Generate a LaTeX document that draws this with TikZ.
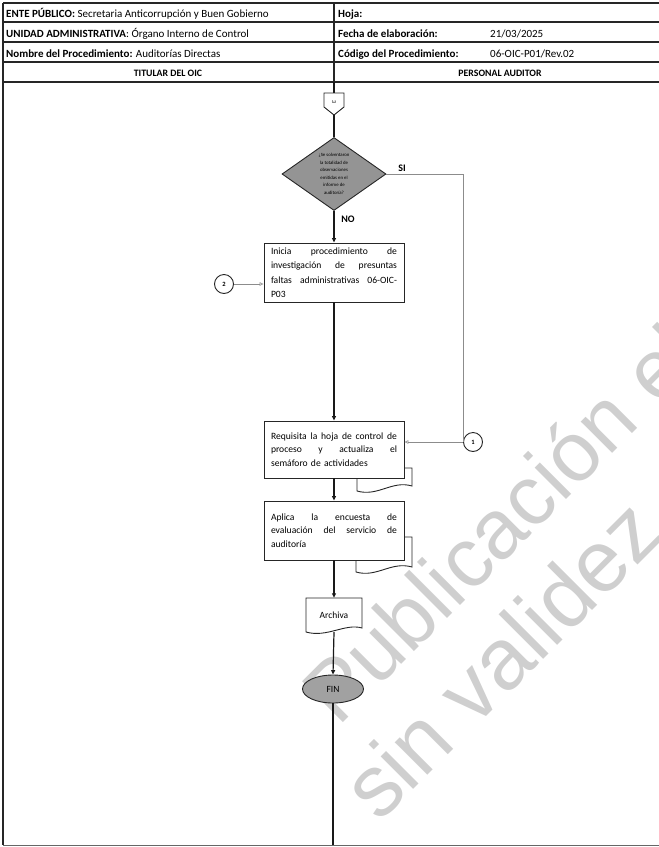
\documentclass[tikz,border=0pt]{standalone}
\usepackage{fontspec}
\setmainfont{Carlito}
\setsansfont{Liberation Sans}
\usetikzlibrary{arrows.meta,shapes.geometric}
\begin{document}
\begin{tikzpicture}[x=1pt,y=-1pt,
  hdr/.style={anchor=base west, inner sep=0pt, font=\fontsize{11}{12}\selectfont},
  hdrc/.style={anchor=base, inner sep=0pt, font=\bfseries\fontsize{9.8}{11}\selectfont},
  gridline/.style={line width=1.1pt, draw=black!85},
  procbox/.style={draw=black!85, line width=0.9pt, fill=white, minimum width=140pt, inner xsep=7pt, inner ysep=0pt, text width=126pt, align=left},
  flowline/.style={draw=black!90, line width=1.2pt},
  flowarrow/.style={flowline, -{Triangle[length=4.5pt,width=4pt]}},
  thinline/.style={draw=black!45, line width=0.6pt},
  thinarrow/.style={thinline, -{Triangle[open,length=4pt,width=3.5pt]}},
  conn/.style={circle, draw=black!85, line width=0.9pt, fill=white, minimum size=19pt, inner sep=0pt, font=\bfseries\fontsize{6.5}{7}\selectfont},
  docline/.style={draw=black!85, line width=0.9pt},
  lbl/.style={inner sep=0pt, font=\bfseries\fontsize{10}{11}\selectfont},
  wmark/.style={text=black!19, font=\sffamily\fontsize{88}{90}\selectfont, anchor=base west, rotate=45, inner sep=0pt},
]
\useasboundingbox (0,0) rectangle (659,847);
\begin{scope}
\clip (0,0) rectangle (659,847);
\node[wmark, font=\sffamily\fontsize{84}{90}\selectfont] (wm1) at (338,728) {Publicación el};
\node[wmark, font=\sffamily\fontsize{87}{90}\selectfont] (wm2) at (379,824) {sin validez};
\end{scope}

% header grid
\draw[gridline] (3,3) -- (659,3);
\draw[gridline] (3,22) -- (659,22);
\draw[gridline] (3,42) -- (659,42);
\draw[gridline] (3,62) -- (659,62);
\draw[gridline] (3,82) -- (659,82);
\draw[gridline] (3,3) -- (3,845);
\draw[gridline] (334,3) -- (334,82);
\draw[line width=1pt, draw=black!60] (3,845) -- (659,845);

% header texts
\node[hdr] (h1) at (6,17.5) {\textbf{ENTE PÚBLICO:} Secretaria Anticorrupción y Buen Gobierno};
\node[hdr] (h2) at (6,37.5) {\textbf{UNIDAD ADMINISTRATIVA}: Órgano Interno de Control};
\node[hdr] (h3) at (6,57) {\textbf{Nombre del Procedimiento:} Auditorías Directas};
\node[hdrc] (h4) at (168,76) {TITULAR DEL OIC};
\node[hdr] (h5) at (338,17.5) {\textbf{Hoja:}};
\node[hdr] (h6) at (338,37.5) {\textbf{Fecha de elaboración:}};
\node[hdr] (h7) at (490,37.5) {21/03/2025};
\node[hdr] (h8) at (338,57) {\textbf{Código del Procedimiento:}};
\node[hdr] (h9) at (490,57) {06-OIC-P01/Rev.02};
\node[hdrc] (h10) at (500,76) {PERSONAL AUDITOR};

% off-page connector
\coordinate (hb) at (334,82);
\coordinate (opcT) at (334,93);
\coordinate (opcB) at (334,115);
\draw[flowline] (hb) -- (opcT);
\draw[docline, fill=white] (324,93) -- (344,93) -- (344,107) -- (opcB) -- (324,107) -- cycle;
\node[rotate=-90, inner sep=0pt, font=\fontsize{6}{6}\selectfont] (opc3) at (334,102) {3};

% decision
\node[diamond, draw=black!85, line width=0.9pt, fill=black!42, minimum width=104pt, minimum height=73pt, inner sep=0pt, align=center, font=\fontsize{4.8}{7.5}\selectfont] (dec) at (334,174)
  {¿Se solventaron\\la totalidad de\\observaciones\\emitidas en el\\informe de\\auditoría?};
\draw[flowline] (opcB) -- (dec.north);

% process boxes
\node[procbox, minimum height=59pt, font=\fontsize{9.6}{14.5}\selectfont] (ini) at (334,272.5)
  {\makebox[126pt][s]{Inicia\hfill procedimiento\hfill de}\\
   \makebox[126pt][s]{investigación\hfill de\hfill presuntas}\\
   \makebox[126pt][s]{faltas\hfill administrativas\hfill 06-OIC-}\\
   P03};
\draw[docline] (357,478) -- (357,491) .. controls (378,497) and (392,480) .. (412,486) -- (412,468) -- (405,468);
\node[procbox, minimum height=57pt, font=\fontsize{9.6}{13.3}\selectfont] (req) at (334,449.5)
  {\makebox[126pt][s]{Requisita\hfill la\hfill hoja\hfill de\hfill control\hfill de}\\
   \makebox[126pt][s]{proceso\hfill y\hfill actualiza\hfill el}\\
   semáforo de actividades};
\draw[docline] (356,560) -- (356,572) .. controls (377,578) and (391,561) .. (412,567) -- (412,537) -- (405,537);
\node[procbox, minimum height=59pt, font=\fontsize{9.6}{13.3}\selectfont] (apl) at (334,530.5)
  {\makebox[126pt][s]{Aplica\hfill la\hfill encuesta\hfill de}\\
   \makebox[126pt][s]{evaluación\hfill del\hfill servicio\hfill de}\\
   auditoría};

% archiva document
\draw[docline, fill=white] (306,598) -- (362,598) -- (362,628) .. controls (345,623) and (327,638) .. (306,632) -- cycle;
\node[minimum width=56pt, minimum height=34pt, inner sep=0pt, font=\fontsize{9.5}{11}\selectfont] (arc) at (334,615) {Archiva};

% FIN
\node[ellipse, draw=black!85, line width=0.9pt, fill=black!37, minimum width=61pt, minimum height=28pt, inner sep=0pt, font=\fontsize{9.5}{11}\selectfont] (fin) at (333,689) {FIN};
\coordinate (bot) at (333,845);

% connectors
\node[conn] (c1) at (473,442) {1};
\node[conn] (c2) at (224,284) {2};

\draw[flowarrow] (dec.south) -- (ini.north);
\draw[flowarrow] (ini.south) -- (req.north);
\draw[flowarrow] (req.south) -- (apl.north);
\draw[flowarrow] (apl.south) -- (arc.north);
\draw[flowarrow] (arc.south) -- (fin.north);
\draw[flowline] (fin.south) -- (bot);

\draw[thinline] (dec.east) -| (c1.west);
\draw[thinarrow] (c1.west) -- (req.east |- c1.west);
\draw[thinarrow] (c2.east) -- (ini.west |- c2.east);

\node[lbl] (si) at (402,168) {SI};
\node[lbl] (no) at (348,219) {NO};
\end{tikzpicture}
\end{document}
